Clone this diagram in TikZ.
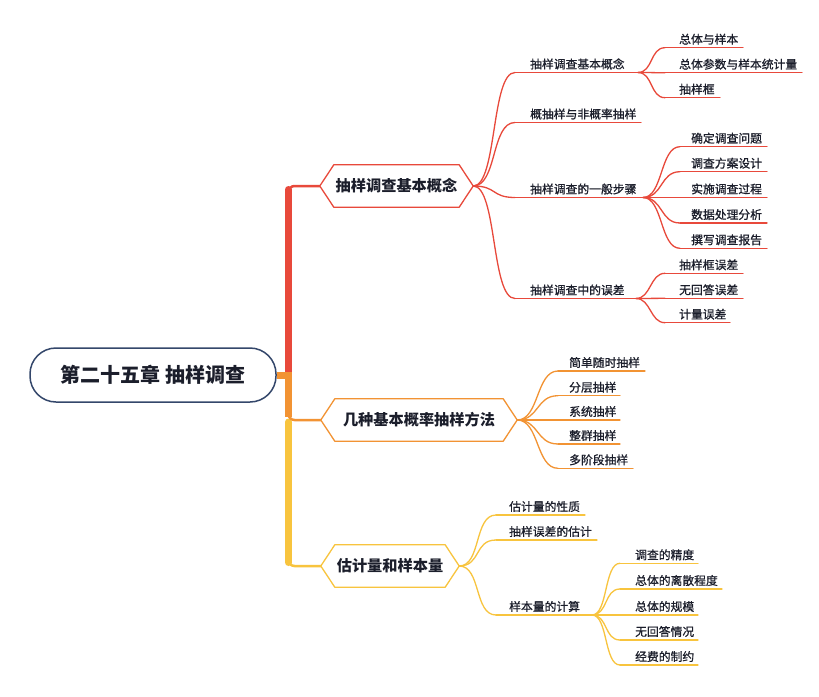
\documentclass[tikz,border=0pt]{standalone}
\usepackage{fontspec}
\setmainfont{Noto Sans CJK SC}
\newfontfamily\leafface{Noto Sans CJK SC}[FakeBold=0.9]
\definecolor{cr}{HTML}{E8493B}
\definecolor{co}{HTML}{F29333}
\definecolor{cy}{HTML}{F8C43E}
\definecolor{navy}{HTML}{34476B}
\definecolor{txt}{HTML}{1B1E2B}
\tikzset{
  leaf/.style={inner sep=0pt, anchor=base west, font=\leafface\fontsize{11.8}{12}\selectfont, text=txt},
  ln/.style={line width=1.3pt, line cap=round},
  hexa/.style={minimum width=#1, minimum height=42pt, inner sep=0pt, font=\fontsize{15.2}{16}\selectfont\bfseries, text=txt},
  trunk/.style={line width=7pt},
  branch/.style={line width=2.5pt, rounded corners=6pt},
}
\newcommand\leafat[7]{%
  \node[leaf] (#1) at (#3,#4-4) {#7};
  \draw[ln,#2] (#5,#4) coordinate (#1-in) -- (#6,#4) coordinate (#1-out);}
\newcommand\conn[4]{\draw[ln,#1] (#2) .. controls +(#4,0) and +(-#4,0) .. (#3);}
\newcommand\hexborder[2]{\draw[line width=1.3pt,#2,line join=round] (#1.west) -- ([xshift=14pt]#1.north west) -- ([xshift=-14pt]#1.north east) -- (#1.east) -- ([xshift=-14pt]#1.south east) -- ([xshift=14pt]#1.south west) -- cycle;}
\begin{document}
\begin{tikzpicture}[x=1pt,y=-1pt]
\fill[white] (0,0) rectangle (819,696);
\useasboundingbox (0,0) rectangle (819,696);

% root
\node[draw=navy, line width=1.5pt, rounded corners=26pt, minimum width=246pt, minimum height=54pt, inner sep=0pt, font=\fontsize{20}{22}\selectfont\bfseries, text=txt] (root) at (153,375) {第二十五章 抽样调查};

% hexagons
\node[hexa=153pt] (h1) at (396.5,186) {抽样调查基本概念};
\node[hexa=196pt] (h2) at (419,420) {几种基本概率抽样方法};
\node[hexa=138pt] (h3) at (390,566) {估计量和样本量};
\hexborder{h1}{cr}
\hexborder{h2}{co}
\hexborder{h3}{cy}

% trunk
\coordinate (tr) at (288.5,375);
\draw[cr, trunk, line cap=round] (288.5,373) -- (288.5,189.5);
\draw[cy, trunk, line cap=round] (288.5,422) -- (288.5,562.5);
\draw[cr, branch] (288.5,200) |- (h1.west);
\draw[cy, branch] (288.5,552) |- (h3.west);
\draw[co, trunk] (root.east) -- (tr);
\draw[co, trunk] (288.5,372) -- (288.5,417);
\draw[co, branch] (288.5,405) |- (h2.west);

% branch 1
\leafat{a1}{cr}{530}{72.5}{515}{638}{抽样调查基本概念}
\leafat{a2}{cr}{530}{122.5}{515}{641}{概抽样与非概率抽样}
\leafat{a3}{cr}{530}{197.5}{515}{643}{抽样调查的一般步骤}
\leafat{a4}{cr}{530}{298.5}{515}{636}{抽样调查中的误差}
\conn{cr}{h1.east}{a1-in}{24}
\conn{cr}{h1.east}{a2-in}{24}
\conn{cr}{h1.east}{a3-in}{24}
\conn{cr}{h1.east}{a4-in}{24}

\leafat{b1}{cr}{679}{47.7}{665}{743}{总体与样本}
\leafat{b2}{cr}{679}{72.7}{665}{802}{总体参数与样本统计量}
\leafat{b3}{cr}{679}{97.7}{665}{720}{抽样框}
\conn{cr}{a1-out}{b1-in}{15}
\conn{cr}{a1-out}{b2-in}{15}
\conn{cr}{a1-out}{b3-in}{15}

\leafat{c1}{cr}{691}{146.7}{680}{767}{确定调查问题}
\leafat{c2}{cr}{691}{171.7}{680}{767}{调查方案设计}
\leafat{c3}{cr}{691}{197.5}{680}{767}{实施调查过程}
\leafat{c4}{cr}{691}{223}{680}{767}{数据处理分析}
\leafat{c5}{cr}{691}{248.3}{680}{767}{撰写调查报告}
\conn{cr}{a3-out}{c1-in}{20}
\conn{cr}{a3-out}{c2-in}{20}
\conn{cr}{a3-out}{c3-in}{20}
\conn{cr}{a3-out}{c4-in}{20}
\conn{cr}{a3-out}{c5-in}{20}

\leafat{d1}{cr}{679}{273.3}{665}{743}{抽样框误差}
\leafat{d2}{cr}{679}{298.3}{665}{743}{无回答误差}
\leafat{d3}{cr}{679}{322.7}{665}{730}{计量误差}
\conn{cr}{a4-out}{d1-in}{15}
\conn{cr}{a4-out}{d2-in}{15}
\conn{cr}{a4-out}{d3-in}{15}

% branch 2
\leafat{e1}{co}{569}{371}{558}{645}{简单随时抽样}
\leafat{e2}{co}{569}{395.7}{558}{620}{分层抽样}
\leafat{e3}{co}{569}{420}{558}{620}{系统抽样}
\leafat{e4}{co}{569}{444}{558}{620}{整群抽样}
\leafat{e5}{co}{569}{468.3}{558}{633}{多阶段抽样}
\conn{co}{h2.east}{e1-in}{22}
\conn{co}{h2.east}{e2-in}{22}
\conn{co}{h2.east}{e3-in}{22}
\conn{co}{h2.east}{e4-in}{22}
\conn{co}{h2.east}{e5-in}{22}

% branch 3
\leafat{f1}{cy}{509}{515}{496}{585}{估计量的性质}
\leafat{f2}{cy}{509}{540}{496}{597}{抽样误差的估计}
\leafat{f3}{cy}{509}{615}{496}{592}{样本量的计算}
\conn{cy}{h3.east}{f1-in}{22}
\conn{cy}{h3.east}{f2-in}{22}
\conn{cy}{h3.east}{f3-in}{22}

\leafat{g1}{cy}{635}{563.3}{620}{698}{调查的精度}
\leafat{g2}{cy}{635}{589}{620}{722}{总体的离散程度}
\leafat{g3}{cy}{635}{615}{620}{698}{总体的规模}
\leafat{g4}{cy}{635}{640}{620}{698}{无回答情况}
\leafat{g5}{cy}{635}{665}{620}{698}{经费的制约}
\conn{cy}{f3-out}{g1-in}{16}
\conn{cy}{f3-out}{g2-in}{16}
\conn{cy}{f3-out}{g3-in}{16}
\conn{cy}{f3-out}{g4-in}{16}
\conn{cy}{f3-out}{g5-in}{16}
\end{tikzpicture}
\end{document}
